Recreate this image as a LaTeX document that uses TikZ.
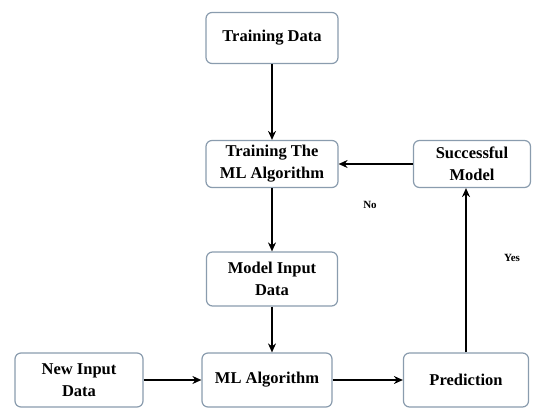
\documentclass[tikz,border=0pt]{standalone}
\usepackage{fontspec}
\setmainfont{Liberation Serif}
\usetikzlibrary{arrows.meta}
\definecolor{boxline}{HTML}{8A9CAE}
\begin{document}
\begin{tikzpicture}[x=1pt,y=-1pt,
  box/.style={draw=boxline,line width=1.2pt,rounded corners=6pt,fill=white,
    align=center,font=\bfseries\fontsize{16.5}{22}\selectfont,inner sep=0pt},
  conn/.style={draw=black,line width=1.5pt,-{Stealth[length=9pt,width=8pt]}},
  lab/.style={font=\bfseries\fontsize{11}{13}\selectfont}]
\useasboundingbox (0,0) rectangle (536,409);
\node[box,minimum width=132pt,minimum height=51pt] (td) at (272,38) {Training Data};
\node[box,minimum width=132pt,minimum height=47pt] (tml) at (272,164) {Training The\\ML Algorithm};
\node[box,minimum width=117pt,minimum height=47pt] (sm) at (472,164) {Successful\\Model};
\node[box,minimum width=131pt,minimum height=54pt] (mid) at (272,279) {Model Input\\Data};
\node[box,minimum width=128pt,minimum height=54pt] (nid) at (79,380) {New Input\\Data};
\node[box,minimum width=130pt,minimum height=54pt] (mla) at (267,380) {ML Algorithm};
\node[box,minimum width=125pt,minimum height=54pt] (pred) at (466,380) {Prediction};
\draw[conn] (td) -- (tml);
\draw[conn] (tml) -- (mid);
\draw[conn] (mid.south) -- (mid.south |- mla.north);
\draw[conn] (nid) -- (mla);
\draw[conn] (mla) -- (pred);
\draw[conn] (pred.north) -- (pred.north |- sm.south);
\draw[conn] (sm) -- (tml);
\node[lab] (no) at (370,205) {No};
\node[lab] (yes) at (512,258) {Yes};
\end{tikzpicture}
\end{document}
